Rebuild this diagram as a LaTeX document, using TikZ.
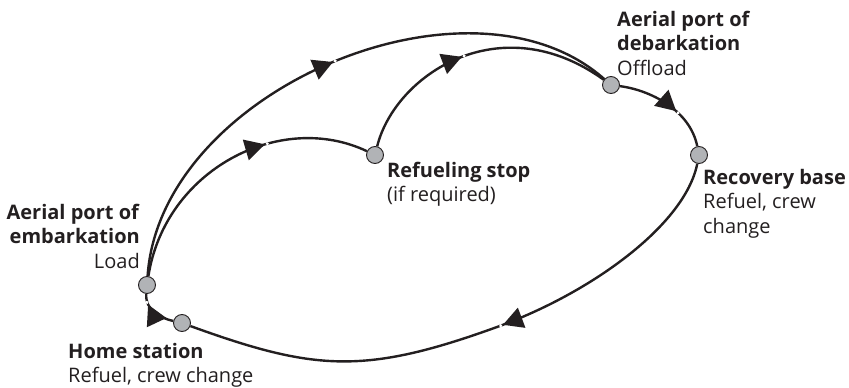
\documentclass[tikz,border=0pt]{standalone}
\usepackage{fontspec}
\setmainfont{Open Sans}
\usetikzlibrary{arrows.meta,decorations.markings}
\definecolor{ink}{HTML}{231F20}
\definecolor{dot}{HTML}{B1B3B6}
\tikzset{
  stop/.style={circle, draw=ink, fill=dot, line width=0.9pt, minimum size=17pt, inner sep=0pt},
  route/.style={draw=ink, color=ink, line width=2.4pt},
  tipat/.style={postaction={decorate, decoration={markings,
      mark=at position #1 with {\arrow{Triangle[length=20pt,width=21pt]}\fill[white] (2.4pt,0) circle (1.7pt);}}}},
  lab/.style={inner sep=0pt, text=ink, font=\fontsize{20}{24.8}\selectfont},
}
\begin{document}
\begin{tikzpicture}[x=1pt,y=-1pt]
\useasboundingbox (0,0) rectangle (849,388);
\node[stop] (apoe) at (147,285) {};
\node[stop] (home) at (182,323) {};
\node[stop] (refuel) at (375,155) {};
\node[stop] (apod) at (611,85) {};
\node[stop] (rec) at (699,155) {};
\coordinate (bend) at (497,327);

\draw[route, tipat=0.51] (apoe) .. controls (160,90) and (470,-40) .. (apod);
\draw[route, tipat=0.64] (apoe) .. controls (165,170) and (280,110) .. (refuel);
\draw[route, tipat=0.46] (refuel) .. controls (395,75) and (500,5) .. (apod);
\draw[route, tipat=0.6] (apod) .. controls (650,90) and (690,110) .. (rec);
\draw[route, tipat=0.447] (rec) .. controls (685,225) and (591,293) .. (bend) .. controls (364.5,375) and (314.5,371) .. (home);
\draw[route, tipat=0.74] (home) .. controls (160,318) and (145,310) .. (apoe);

\node[lab, anchor=base west] (tapod) at (617,26) {\begin{tabular}[t]{@{}l@{}}\textbf{Aerial port of}\\\textbf{debarkation}\\Offload\end{tabular}};
\node[lab, anchor=base west] (trefuel) at (387,177) {\begin{tabular}[t]{@{}l@{}}\textbf{Refueling stop}\\(if required)\end{tabular}};
\node[lab, anchor=base west] (trec) at (703,184) {\begin{tabular}[t]{@{}l@{}}\textbf{Recovery base}\\Refuel, crew\\change\end{tabular}};
\node[lab, anchor=base east] (tapoe) at (140,219) {\begin{tabular}[t]{@{}r@{}}\textbf{Aerial port of}\\\textbf{embarkation}\\Load\end{tabular}};
\node[lab, anchor=base west] (thome) at (68,358) {\begin{tabular}[t]{@{}l@{}}\textbf{Home station}\\Refuel, crew change\end{tabular}};
\end{tikzpicture}
\end{document}
